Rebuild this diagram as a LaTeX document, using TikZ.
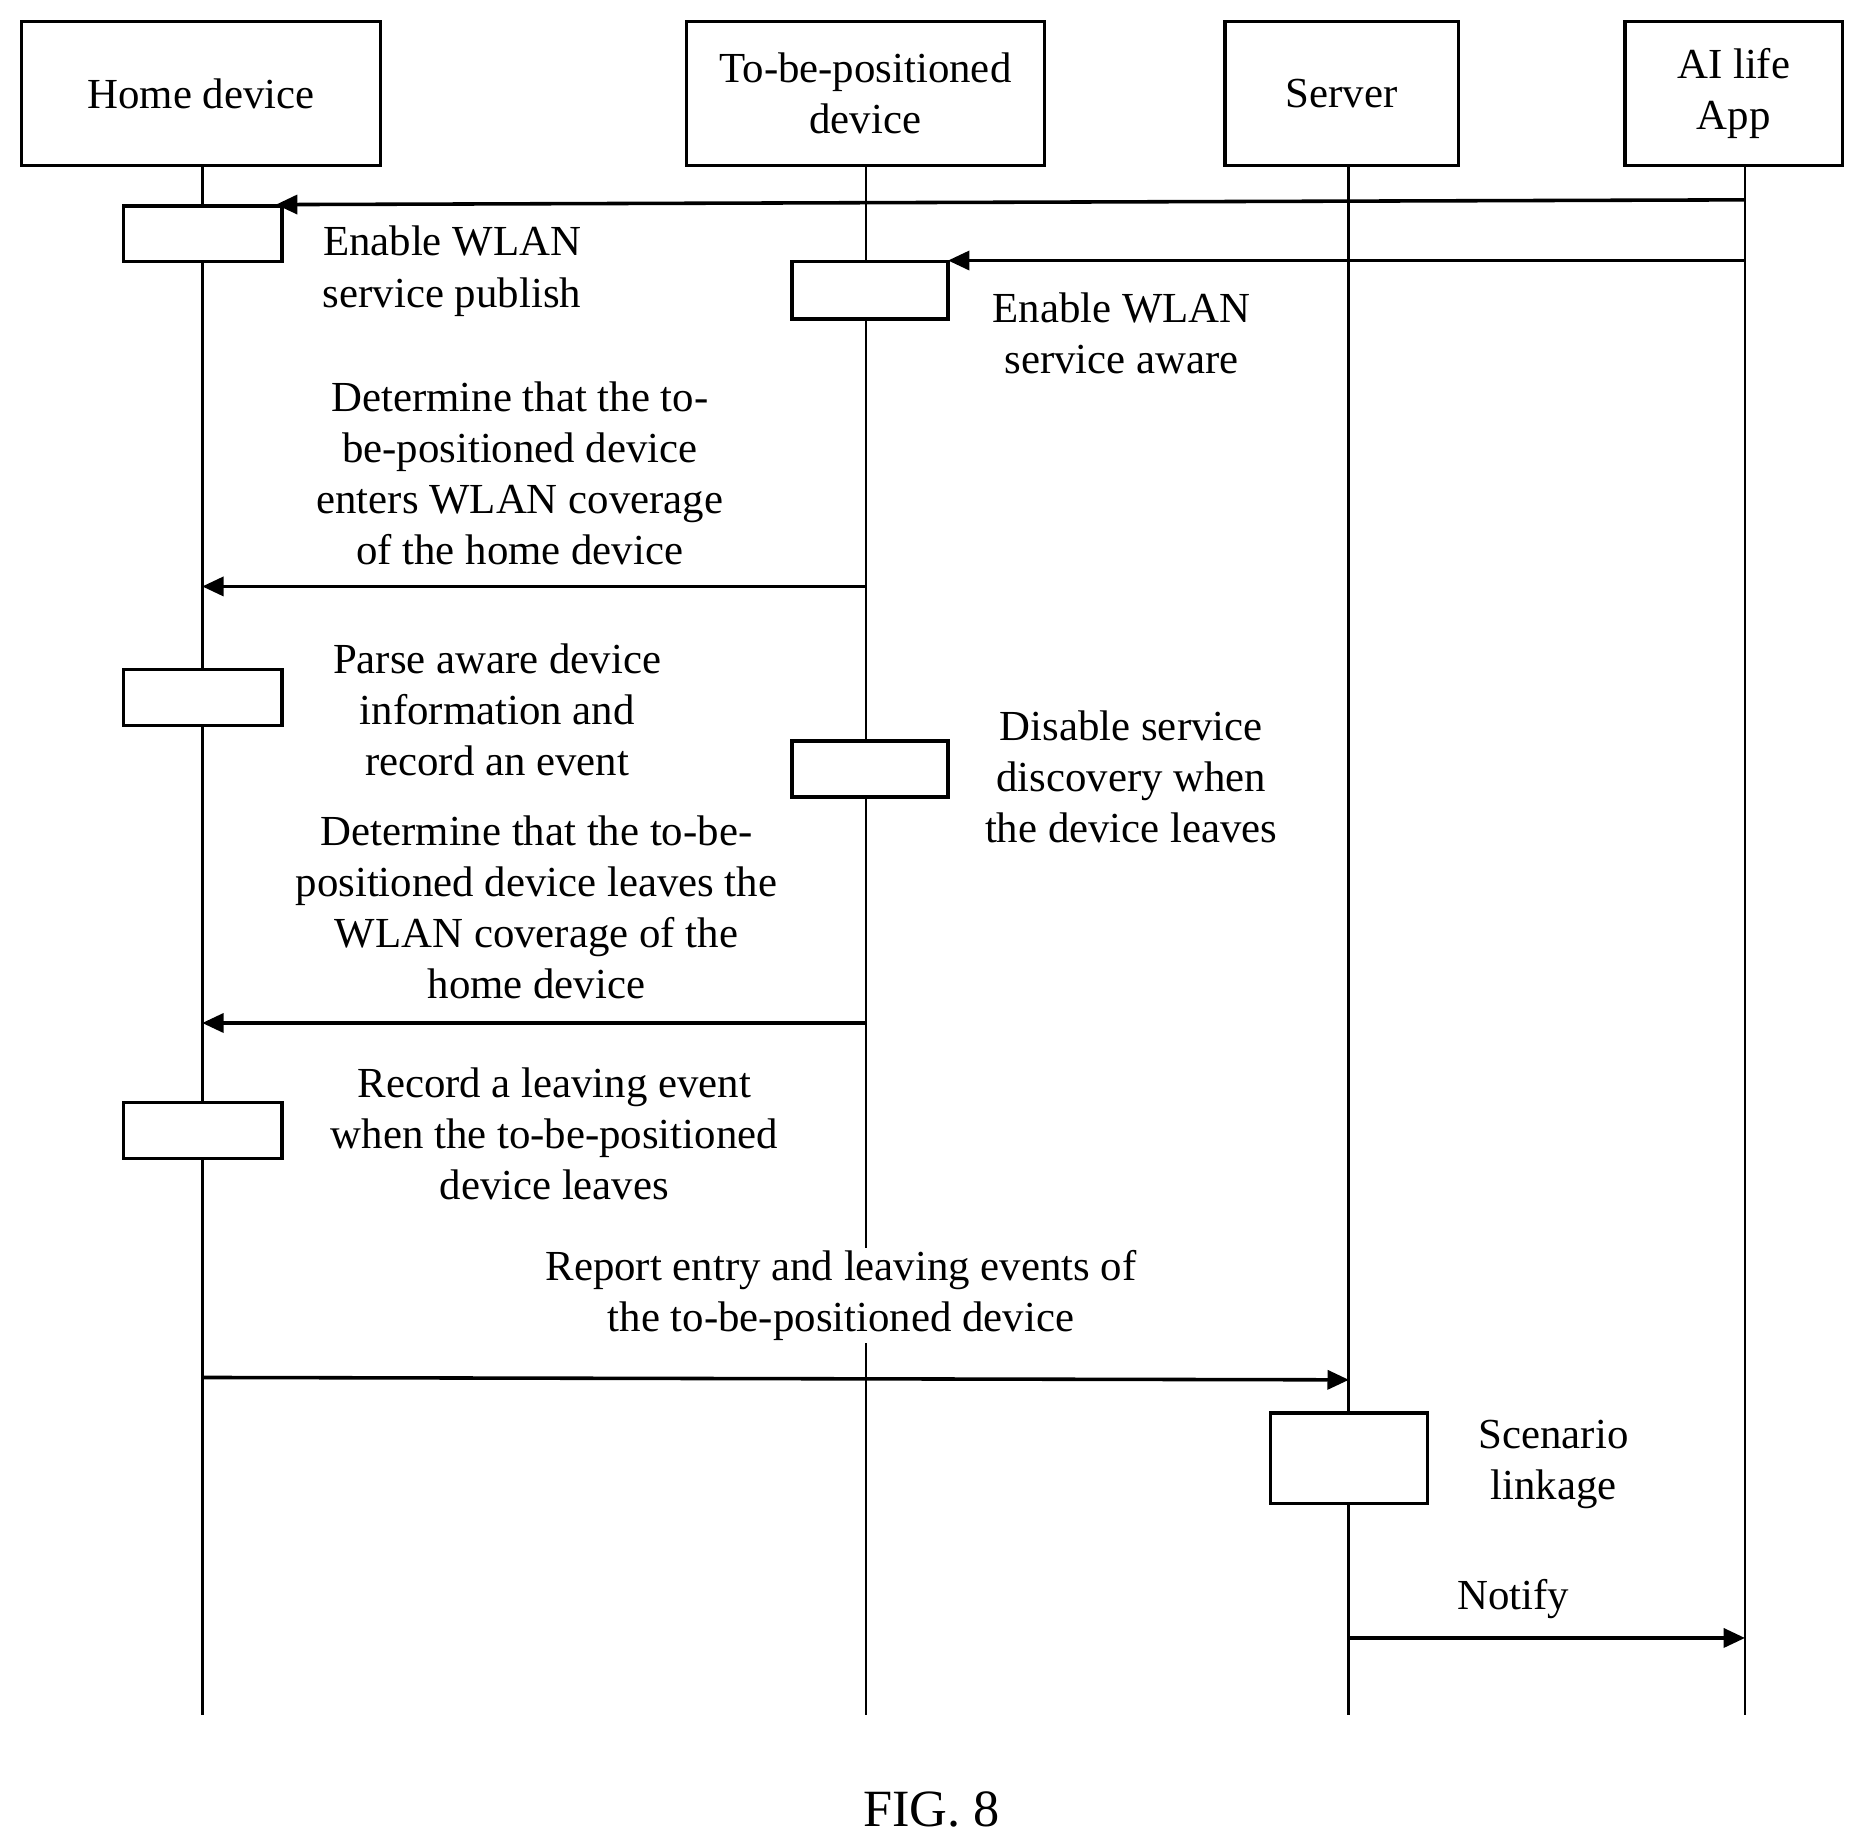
\documentclass[tikz,border=0pt]{standalone}
\usepackage{fontspec}
\setmainfont{Liberation Serif}
\usetikzlibrary{arrows.meta}
\begin{document}
\begin{tikzpicture}[x=0.5pt,y=-0.5pt,
 hdr/.style={draw,line width=1.5pt,align=center,font=\fontsize{18}{21.5}\selectfont},
 act/.style={draw,line width=1.5pt,fill=white},
 life/.style={line width=1.2pt},
 msg/.style={line width=1.5pt,-{Triangle[length=9pt,width=8pt]}},
 txt/.style={fill=white,align=center,inner sep=1pt,font=\fontsize{18}{21.5}\selectfont}]
\useasboundingbox (0,0) rectangle (1562,1549);
\draw[hdr] (18,18) rectangle (320,139) node[midway,draw=none] (h) {Home device};
\draw[hdr] (577,18) rectangle (878,139) node[midway,draw=none] (t) {To-be-positioned\\device};
\draw[hdr] (1030,18) rectangle (1226,139) node[midway,draw=none] (s) {Server};
\draw[hdr] (1366,18) rectangle (1549,139) node[midway,draw=none] (a) {AI life\\App};
\coordinate (hb) at (170,139); \coordinate (he) at (170,1442);
\coordinate (tb) at (728,139); \coordinate (te) at (728,1442);
\coordinate (sb) at (1134,139); \coordinate (se) at (1134,1442);
\coordinate (ab) at (1467,139); \coordinate (ae) at (1467,1442);
\draw[life] (hb)--(he); \draw[life] (tb)--(te); \draw[life] (sb)--(se); \draw[life] (ab)--(ae);
% texts
\node[txt] (t1) at (380,228) {Enable WLAN\\service publish};
\node[txt] (t2) at (943,280) {Enable WLAN\\service aware};
\node[txt] (t3) at (437,398) {Determine that the to-\\be-positioned device\\enters WLAN coverage\\of the home device};
\node[txt] (t4) at (418,597) {Parse aware device\\information and\\record an event};
\node[txt] (t5) at (951,653) {Disable service\\discovery when\\the device leaves};
\node[txt] (t6) at (451,763) {Determine that the to-be-\\positioned device leaves the\\WLAN coverage of the\\home device};
\node[txt] (t7) at (466,953) {Record a leaving event\\when the to-be-positioned\\device leaves};
\node[txt] (t8) at (707,1089) {Report entry and leaving events of\\the to-be-positioned device};
\node[txt] (t9) at (1306,1231) {Scenario\\linkage};
\node[txt] (t10) at (1272,1344) {Notify};
\node[font=\fontsize{22}{26}\selectfont] (fig) at (783,1521) {FIG. 8};
% activations
\draw[act] (104,173) rectangle (237,220);
\draw[act] (666,220) rectangle (797,268);
\draw[act] (104,563) rectangle (237,610);
\draw[act] (666,623) rectangle (797,670);
\draw[act] (104,927) rectangle (237,974);
\draw[act] (1068,1188) rectangle (1200,1264);
% messages
\coordinate (m1a) at (1467,168); \coordinate (m1b) at (232,172);
\draw[msg] (m1a)--(m1b);
\coordinate (m2a) at (1467,219); \coordinate (m2b) at (797,219);
\draw[msg] (m2a)--(m2b);
\coordinate (m3a) at (728,493); \coordinate (m3b) at (170,493);
\draw[msg] (m3a)--(m3b);
\coordinate (m4a) at (728,860); \coordinate (m4b) at (170,860);
\draw[msg] (m4a)--(m4b);
\coordinate (m5a) at (170,1158); \coordinate (m5b) at (1134,1160);
\draw[msg] (m5a)--(m5b);
\coordinate (m6a) at (1134,1377); \coordinate (m6b) at (1467,1377);
\draw[msg] (m6a)--(m6b);
\end{tikzpicture}
\end{document}
